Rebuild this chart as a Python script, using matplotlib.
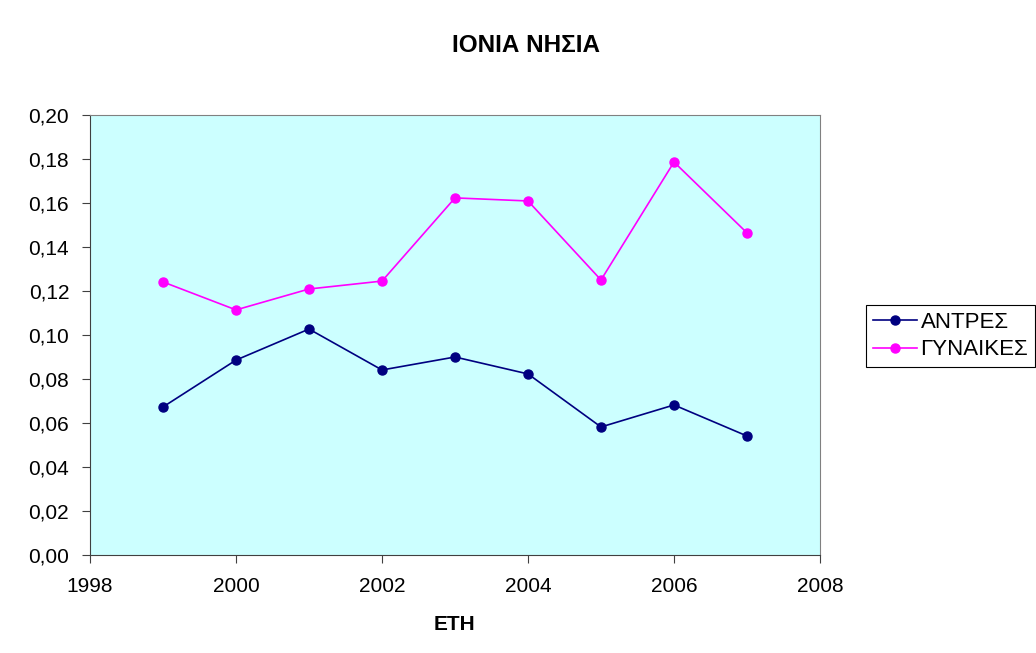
import numpy as np
import matplotlib.pyplot as plt
from matplotlib.ticker import FuncFormatter, MultipleLocator

plt.rcParams['font.family'] = ['Liberation Sans', 'DejaVu Sans']

# data
years = [1999, 2000, 2001, 2002, 2003, 2004, 2005, 2006, 2007]
antres = [0.0673, 0.0886, 0.1027, 0.0841, 0.0900, 0.0823, 0.0582, 0.0682, 0.0541]
gynaikes = [0.1241, 0.1114, 0.1209, 0.1245, 0.1623, 0.1609, 0.1250, 0.1786, 0.1464]

TITLE = "ΙΟΝΙΑ ΝΗΣΙΑ"
XLABEL = "ΕΤΗ"

fig = plt.figure(figsize=(10.36, 6.53), dpi=100)
ax = fig.add_axes([0.0869, 0.150, 0.7046, 0.674])
ax.set_facecolor("#ccffff")

ax.plot(years, antres, color="#000080", marker="o", markersize=6.5,
        linewidth=1.2, label="ΑΝΤΡΕΣ")
ax.plot(years, gynaikes, color="#ff00ff", marker="o", markersize=6.5,
        linewidth=1.2, label="ΓΥΝΑΙΚΕΣ")

ax.set_xlim(1998, 2008)
ax.set_ylim(0, 0.20)
ax.xaxis.set_major_locator(MultipleLocator(2))
ax.yaxis.set_major_locator(MultipleLocator(0.02))
ax.yaxis.set_major_formatter(FuncFormatter(lambda v, p: f"{v:.2f}".replace(".", ",")))
ax.tick_params(labelsize=15, direction="out", length=6, color="#404040")
ax.tick_params(axis="x", pad=10)
ax.tick_params(axis="y", pad=9)

for side in ["top", "right"]:
    ax.spines[side].set_color("#808080")
for side in ["left", "bottom"]:
    ax.spines[side].set_color("#404040")

fig.text(0.508, 0.931, TITLE, ha="center", va="center", fontsize=17.5, fontweight="bold")
fig.text(0.439, 0.043, XLABEL, ha="center", va="center", fontsize=15, fontweight="bold")

leg = fig.legend(loc="upper left", bbox_to_anchor=(0.836, 0.533), fontsize=16,
                 frameon=True, fancybox=False, edgecolor="black", framealpha=1,
                 handlelength=2.0, handletextpad=0.15, borderpad=0.3,
                 labelspacing=0.3, borderaxespad=0)
leg.get_frame().set_linewidth(0.8)

fig.savefig("out.png", dpi=100)
